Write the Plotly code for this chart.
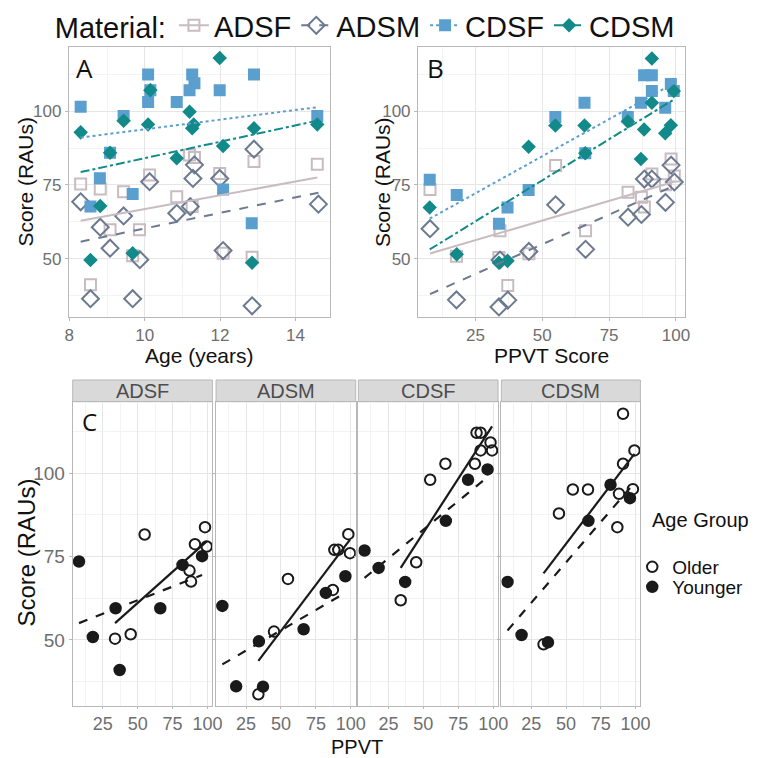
import numpy as np
import plotly.graph_objects as go

materials = ["ADSF", "ADSM", "CDSF", "CDSM"]
colors = {"ADSF": "#C9BCC1", "ADSM": "#6C7A90", "CDSF": "#5B9FCF", "CDSM": "#138A8A"}
symbols = {"ADSF": "square-open", "ADSM": "diamond-open", "CDSF": "square", "CDSM": "diamond"}
msizes = {"ADSF": 11, "ADSM": 13, "CDSF": 10, "CDSM": 9}
dashes = {"ADSF": "solid", "ADSM": "dash", "CDSF": "dot", "CDSM": "dashdot"}

# ---- Panel A: age (years) vs score (RAUs)
adsf_age = [11.19, 11.32, 12.90, 14.58, 10.13, 11.99, 8.30, 8.82, 9.44, 10.85, 11.26, 9.08, 9.86, 9.68, 12.08, 12.85, 8.56]
adsf_age_score = [85.1, 84.3, 82.9, 82.0, 78.4, 78.9, 75.3, 73.6, 72.7, 71.0, 67.7, 59.8, 59.8, 51.0, 51.9, 50.5, 41.2]
adsm_age = [12.90, 11.32, 10.13, 11.28, 11.99, 8.30, 14.61, 11.21, 10.85, 9.44, 8.82, 9.08, 12.08, 9.87, 8.56, 9.68, 12.85]
adsm_age_score = [87.1, 81.8, 76.1, 77.2, 77.2, 69.3, 68.5, 67.7, 65.4, 64.5, 60.7, 53.6, 52.8, 49.7, 36.5, 36.5, 34.1]
cdsf_age = [8.30, 10.09, 11.26, 12.90, 11.32, 11.19, 11.99, 10.15, 10.09, 10.85, 9.44, 14.58, 9.08, 8.81, 8.56, 9.68, 12.08, 12.84]
cdsf_age_score = [101.5, 112.4, 112.4, 112.4, 109.4, 107.1, 107.1, 107.1, 103.1, 103.1, 98.3, 98.3, 85.9, 77.3, 67.7, 71.9, 73.5, 62.0]
cdsm_age = [11.99, 10.15, 11.19, 8.30, 9.44, 10.09, 11.30, 11.26, 12.90, 14.58, 9.08, 12.08, 10.85, 8.82, 8.56, 9.68, 12.85]
cdsm_age_score = [118.0, 107.1, 99.8, 92.8, 96.7, 95.5, 95.5, 94.2, 94.2, 95.5, 85.9, 88.2, 84.0, 67.9, 49.6, 51.9, 48.7]

# ---- Panels B & C: PPVT vs score, with age group
ad_ppvt = [8.0, 17.9, 34.2, 33.8, 37.1, 45.0, 55.0, 66.2, 82.1, 87.1, 88.2, 91.0, 96.1, 98.2, 99.4]
ad_group = ["Younger", "Younger", "Younger", "Older", "Younger", "Older", "Older", "Younger",
            "Younger", "Older", "Older", "Older", "Younger", "Older", "Older"]
adsf_score = [73.5, 50.9, 59.5, 50.4, 41.0, 51.7, 81.6, 59.5, 72.5, 70.8, 67.5, 78.7, 75.1, 83.8, 78.0]
adsm_score = [60.2, 36.1, 49.6, 33.7, 36.0, 52.5, 68.3, 53.2, 64.1, 65.0, 77.0, 77.0, 69.1, 81.7, 76.0]

cd_ppvt = [7.9, 18.0, 33.8, 37.0, 44.9, 54.9, 65.8, 66.1, 82.0, 86.9, 88.1, 91.0, 91.0, 96.0, 98.1, 99.2]
cd_group = ["Younger", "Younger", "Older", "Younger", "Older", "Older", "Older", "Younger",
            "Younger", "Older", "Older", "Older", "Older", "Younger", "Older", "Older"]
cdsf_score = [76.8, 71.6, 61.9, 67.4, 73.3, 98.0, 102.8, 85.7, 98.0, 102.8, 112.1, 112.1, 106.8, 101.1, 109.2, 106.8]
cdsm_score = [67.4, 51.5, 48.7, 49.3, 87.9, 95.1, 95.1, 85.7, 96.5, 83.8, 93.8, 117.8, 102.8, 92.5, 95.2, 106.8]

age_groups = ["Older", "Younger"]

age_data = {"ADSF": (adsf_age, adsf_age_score), "ADSM": (adsm_age, adsm_age_score),
            "CDSF": (cdsf_age, cdsf_age_score), "CDSM": (cdsm_age, cdsm_age_score)}
ppvt_data = {"ADSF": (ad_ppvt, adsf_score, ad_group), "ADSM": (ad_ppvt, adsm_score, ad_group),
             "CDSF": (cd_ppvt, cdsf_score, cd_group), "CDSM": (cd_ppvt, cdsm_score, cd_group)}

W, H = 763, 758
def px(x):
    return x / W
def py(y):
    return 1 - y / H

def fit(x, y):
    x = np.asarray(x, float); y = np.asarray(y, float)
    b, a = np.polyfit(x, y, 1)
    xs = np.array([x.min(), x.max()])
    return xs, a + b * xs

fig = go.Figure()

# Panels A and B: points
for m in materials:
    for xa, ya, (xv, yv) in (("x", "y", age_data[m]), ("x2", "y2", ppvt_data[m][:2])):
        fig.add_trace(go.Scatter(x=xv, y=yv, mode="markers", xaxis=xa, yaxis=ya, showlegend=False,
                                 marker=dict(symbol=symbols[m], size=msizes[m], color=colors[m],
                                             line=dict(width=2, color=colors[m]))))
# Panels A and B: linear fits
for m in materials:
    for xa, ya, (xv, yv) in (("x", "y", age_data[m]), ("x2", "y2", ppvt_data[m][:2])):
        xs, ys = fit(xv, yv)
        fig.add_trace(go.Scatter(x=xs, y=ys, mode="lines", xaxis=xa, yaxis=ya, showlegend=False,
                                 line=dict(color=colors[m], width=2, dash=dashes[m])))
# Material legend entries
for m in materials:
    fig.add_trace(go.Scatter(x=[None], y=[None], mode="lines+markers", name=m, legend="legend",
                             xaxis="x", yaxis="y",
                             marker=dict(symbol=symbols[m], size=msizes[m], color=colors[m],
                                         line=dict(width=2, color=colors[m])),
                             line=dict(color=colors[m], width=2, dash=dashes[m])))

# Panel C facets
gsym = {"Older": "circle-open", "Younger": "circle"}
gdash = {"Older": "solid", "Younger": "dash"}
for i, m in enumerate(materials):
    xa, ya = "x%d" % (i + 3), "y%d" % (i + 3)
    xv, yv, gv = ppvt_data[m]
    for g in age_groups:
        xs = [a for a, gg in zip(xv, gv) if gg == g]
        ys = [b for b, gg in zip(yv, gv) if gg == g]
        fig.add_trace(go.Scatter(x=xs, y=ys, mode="markers", xaxis=xa, yaxis=ya, showlegend=False,
                                 marker=dict(symbol=gsym[g], size=10.5, color="#1a1a1a",
                                             line=dict(width=2, color="#1a1a1a"))))
    for g in age_groups:
        xs = [a for a, gg in zip(xv, gv) if gg == g]
        ys = [b for b, gg in zip(yv, gv) if gg == g]
        lx, ly = fit(xs, ys)
        fig.add_trace(go.Scatter(x=lx, y=ly, mode="lines", xaxis=xa, yaxis=ya, showlegend=False,
                                 line=dict(color="#1a1a1a", width=2.2, dash=gdash[g])))
for g, lg in zip(age_groups, ("legend2", "legend3")):
    fig.add_trace(go.Scatter(x=[None], y=[None], mode="markers", name=g, legend=lg,
                             xaxis="x3", yaxis="y3",
                             marker=dict(symbol=gsym[g], size=10.5, color="#1a1a1a",
                                         line=dict(width=2, color="#1a1a1a"))))

FONT = "Liberation Sans, Arial, sans-serif"
def axis(domain, rng, dtick, mdtick, tsize=17, anchor=None, showticklabels=True, ticklen=3):
    d = dict(domain=domain, range=rng, dtick=dtick, tick0=0, showgrid=True, gridcolor="#E6E6E6",
             gridwidth=1, minor=dict(dtick=mdtick, tick0=0, showgrid=True, gridcolor="#F3F3F3", gridwidth=1),
             showline=True, mirror=True, linecolor="#B8B8B8", linewidth=1, zeroline=False,
             ticks="outside", ticklen=ticklen, tickcolor="#B8B8B8",
             tickfont=dict(size=tsize, color="#6E6E6E", family=FONT), showticklabels=showticklabels)
    if anchor:
        d["anchor"] = anchor
    return d

yA = [py(317), py(46.7)]
yrng = [30.3, 121.8]
lay = dict(
    xaxis=axis([px(66), px(332)], [7.985, 14.915], 2, 1, anchor="y"),
    yaxis=axis(yA, yrng, 25, 12.5, anchor="x"),
    xaxis2=axis([px(421.7), px(694)], [3.5, 103.5], 25, 12.5, anchor="y2"),
    yaxis2=axis(yA, yrng, 25, 12.5, anchor="x2"),
)
cx = [(70, 212.3), (216, 358.3), (361, 503.3), (506.7, 648.3)]
yC = [py(705.7), py(401.7)]
for i, (l, r) in enumerate(cx):
    n = i + 3
    lay["xaxis%d" % n] = axis([px(l), px(r)], [3.5, 103.5], 25, 12.5, tsize=18, anchor="y%d" % n, ticklen=2)
    lay["yaxis%d" % n] = axis(yC, [30.3, 121.4], 25, 12.5, tsize=19, anchor="x%d" % n,
                              showticklabels=(i == 0))

fig.update_layout(**lay)

shapes = []
annotations = []
for (l, r), m in zip(cx, materials):
    shapes.append(dict(type="rect", xref="paper", yref="paper", x0=px(l), x1=px(r), y0=py(401.7), y1=py(380),
                       fillcolor="#D9D9D9", line=dict(color="#B8B8B8", width=1), layer="below"))
    annotations.append(dict(text=m, xref="paper", yref="paper", x=px((l + r) / 2), y=py(391), showarrow=False,
                            font=dict(size=20, color="#4D4D4D", family=FONT), xanchor="center", yanchor="middle"))

def title(text, x, y, size, angle=0):
    annotations.append(dict(text=text, xref="paper", yref="paper", x=px(x), y=py(y), showarrow=False,
                            textangle=angle, font=dict(size=size, color="#111111", family=FONT),
                            xanchor="center", yanchor="middle"))

title("Score (RAUs)", 22, 182, 21, -90)
title("Age (years)", 199, 355, 21)
title("Score (RAUs)", 386, 182, 21, -90)
title("PPVT Score", 558, 355, 21)
title("Score (RAUs)", 22, 553, 24, -90)
title("PPVT", 360, 747, 20)
for t, x, y, s in (("A", 82, 68, 26), ("B", 440, 68, 26), ("C", 87, 421, 24)):
    annotations.append(dict(text=t, xref="paper", yref="paper", x=px(x), y=py(y), showarrow=False,
                            font=dict(size=s, color="#111111", family="Open Sans, sans-serif"),
                            xanchor="center", yanchor="middle"))
annotations.append(dict(text="Age Group", xref="paper", yref="paper", x=px(658), y=py(520), showarrow=False,
                        font=dict(size=20, color="#111111", family=FONT), xanchor="left", yanchor="middle"))

small_legend = lambda ytop: dict(orientation="v", x=px(640), xanchor="left", y=py(ytop), yanchor="top",
                                 font=dict(size=19, color="#111111", family=FONT), bgcolor="rgba(0,0,0,0)",
                                 itemwidth=30, tracegroupgap=0)
fig.update_layout(
    width=W, height=H, margin=dict(l=0, r=0, t=0, b=0),
    paper_bgcolor="white", plot_bgcolor="white",
    font=dict(family=FONT),
    shapes=shapes, annotations=annotations,
    legend=dict(orientation="h", x=px(369), xanchor="center", y=1.0, yanchor="top",
                title=dict(text="Material:", side="left", font=dict(size=29, color="#111111", family=FONT)),
                font=dict(size=29, color="#111111", family=FONT), bgcolor="rgba(0,0,0,0)",
                itemwidth=30, tracegroupgap=0),
    legend2=small_legend(548),
    legend3=small_legend(568),
)

fig.write_html("out.html", config={"displayModeBar": False},
               post_script="document.body.style.margin='0px';document.body.style.padding='0px';")
